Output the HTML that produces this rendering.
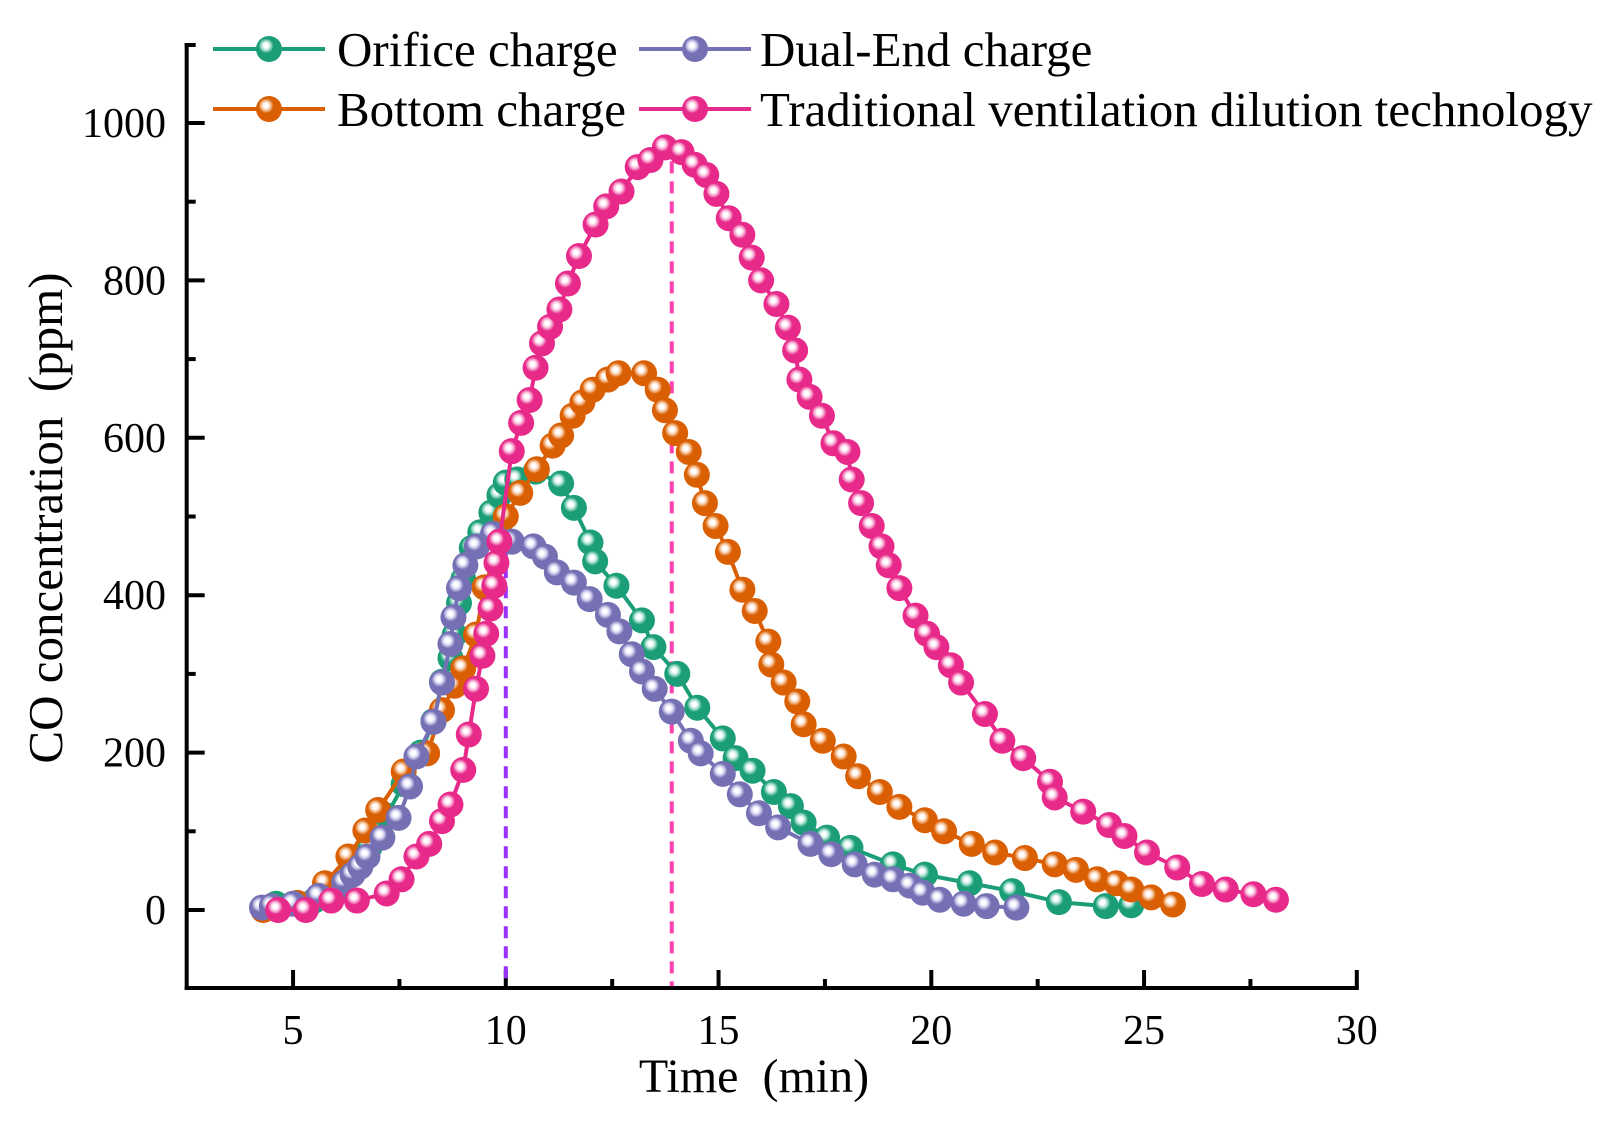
<!DOCTYPE html>
<html><head><meta charset="utf-8"><style>
html,body{margin:0;padding:0;background:#fff;}
svg{display:block;font-family:"Liberation Serif",serif;}
</style></head><body>
<svg id="chart" width="1617" height="1122" viewBox="0 0 1617 1122" xmlns="http://www.w3.org/2000/svg">
<defs id="defs"></defs>
<g id="axes"></g>
<g id="plot"></g>
<g id="legend"></g>
</svg>
<script>
const xTicks = [5, 10, 15, 20, 25, 30];
const yTicks = [0, 200, 400, 600, 800, 1000];
const peakLines = [10, 13.9];
const seriesNames = ["Orifice charge", "Bottom charge", "Dual-End charge", "Traditional ventilation dilution technology"];
const orificeT = [4.6,5.5,6.0,6.4,6.8,7.2,7.6,8.0,8.3,8.5,8.7,8.8,8.9,9.0,9.2,9.4,9.66,9.85,10.0,10.27,10.7,11.3,11.6,11.99,12.1,12.6,13.2,13.47,14.03,14.5,15.1,15.4,15.8,16.3,16.7,17.0,17.55,18.1,19.1,19.85,20.9,21.9,23.0,24.1,24.7];
const orificeV = [8,12,25,50,80,120,160,200,240,290,320,350,390,420,460,480,505,527,543,547,557,542,511,467,443,412,368,334,300,257,218,193,177,150,132,111,92,79,58,45,34,24,10,5,6];
const bottomT = [4.3,5.1,5.75,6.3,6.7,7.0,7.6,8.15,8.5,8.8,9.0,9.3,9.5,9.9,10.0,10.34,10.73,11.1,11.3,11.57,11.8,12.04,12.4,12.65,13.25,13.57,13.74,13.98,14.3,14.49,14.68,14.93,15.22,15.56,15.85,16.17,16.24,16.53,16.85,17.0,17.45,17.94,18.28,18.79,19.25,19.85,20.3,20.95,21.5,22.2,22.9,23.4,23.9,24.35,24.7,25.17,25.68];
const bottomV = [0,9,34,68,101,127,176,199,254,285,307,350,410,475,500,530,560,590,603,628,645,661,674,682,682,661,635,606,582,553,517,488,455,407,380,341,312,289,265,236,215,195,170,150,131,114,100,84,73,66,58,51,39,34,26,16,7];
const dualT = [4.27,4.5,5.0,5.6,6.2,6.4,6.58,6.75,7.1,7.48,7.75,7.9,8.3,8.5,8.7,8.77,8.9,9.05,9.32,9.7,10.14,10.65,10.92,11.2,11.6,11.97,12.4,12.67,12.96,13.2,13.5,13.9,14.35,14.58,15.1,15.5,15.95,16.4,17.16,17.65,18.2,18.67,19.1,19.5,19.8,20.2,20.76,21.3,22.0];
const dualV = [3,5,8,18,35,45,55,68,92,117,157,195,239,289,338,372,409,438,462,478,468,462,449,429,416,395,375,354,325,303,281,252,215,199,173,147,123,105,84,71,58,45,39,31,22,13,8,5,3];
const tradT = [4.65,5.3,5.9,6.5,7.2,7.55,7.9,8.2,8.5,8.7,9.0,9.13,9.3,9.45,9.54,9.64,9.73,9.78,9.85,10.14,10.36,10.56,10.7,10.85,11.04,11.26,11.46,11.72,12.11,12.36,12.72,13.1,13.4,13.74,14.13,14.44,14.71,14.95,15.24,15.56,15.78,16.0,16.36,16.63,16.8,16.9,17.14,17.43,17.7,18.03,18.13,18.35,18.6,18.83,19.0,19.25,19.63,19.9,20.12,20.46,20.7,21.26,21.67,22.16,22.79,22.9,23.57,24.18,24.54,25.07,25.78,26.36,26.92,27.57,28.1];
const tradV = [0,0,12,12,21,39,68,84,113,134,178,223,281,323,351,383,412,441,468,583,619,648,689,720,741,763,796,831,871,894,913,944,953,969,963,947,934,910,879,858,829,800,770,740,711,674,652,628,593,582,547,517,488,462,438,409,374,351,334,311,289,249,215,193,163,143,125,108,94,73,54,33,26,20,13];

const NS = "http://www.w3.org/2000/svg";
const X0 = 80.3, XS = 42.55, Y0 = 910, YS = 0.787;
function xs(t){ return X0 + t*XS; }
function ys(v){ return Y0 - v*YS; }
function mk(tag, attrs, parent){ const e=document.createElementNS(NS,tag); for(const k in attrs) e.setAttribute(k,attrs[k]); if(parent) parent.appendChild(e); return e; }

const colors = ["#1b9e77","#d95f02","#7570b3","#e7298a"];
const lights = ["#a8e0cf","#f6c49c","#cfcdee","#f8b2d6"];
const defs = document.getElementById('defs');
colors.forEach((c,i)=>{
  const g = mk('radialGradient',{id:'g'+i,cx:'0.4',cy:'0.4',r:'0.6',fx:'0.38',fy:'0.36'},defs);
  mk('stop',{offset:'0','stop-color':'#ffffff'},g);
  mk('stop',{offset:'0.14','stop-color':'#ffffff'},g);
  mk('stop',{offset:'0.3','stop-color':lights[i]},g);
  mk('stop',{offset:'0.48','stop-color':c},g);
  mk('stop',{offset:'1','stop-color':c},g);
});

const ax = document.getElementById('axes');
const yAxis = mk('line',{x1:xs(2.5),y1:43,x2:xs(2.5),y2:990,stroke:'#000','stroke-width':4},ax);


mk('line',{x1:xs(2.5)-2,y1:45,x2:xs(2.5)+9,y2:45,stroke:'#000','stroke-width':4},ax);
const xAxis = mk('line',{x1:xs(2.5)-2,y1:988,x2:xs(30)+2,y2:988,stroke:'#000','stroke-width':4},ax);


for(let t=5;t<=30.01;t+=2.5){
  const major = Math.abs(t%5)<0.01;
  mk('line',{x1:xs(t),y1:988,x2:xs(t),y2:major?970:979,stroke:'#000','stroke-width':4},ax);
}
xTicks.forEach(t=>{
  const tx = mk('text',{x:xs(t),y:1044,'font-size':42,'text-anchor':'middle'},ax);
  tx.textContent = t;
  
  
});
for(let v=-100;v<=1100;v+=100){
  const major = v%200===0;
  const y = ys(v);
  if(y<45||y>985) continue;
  mk('line',{x1:xs(2.5),y1:y,x2:xs(2.5)+(major?18:9),y2:y,stroke:'#000','stroke-width':4},ax);
}
yTicks.forEach(v=>{
  const tx = mk('text',{x:166,y:ys(v)+14,'font-size':42,'text-anchor':'end'},ax);
  tx.textContent = v;
  
  
});
const xt = mk('text',{x:754,y:1092,'font-size':48,'text-anchor':'middle'},ax);
xt.textContent = 'Time\u00a0\u00a0(min)';


const yt = mk('text',{x:0,y:0,'font-size':49,'text-anchor':'middle',transform:'translate(62,518) rotate(-90)'},ax);
yt.textContent = 'CO concentration\u00a0\u00a0(ppm)';



const plot = document.getElementById('plot');
const peakColors = ['#9b30ff','#ff40b0'];
const peakTops = [480, 969];
peakLines.forEach((t,i)=>{
  const l = mk('line',{x1:xs(t),y1:ys(peakTops[i])-6,x2:xs(t),y2:986,stroke:peakColors[i],'stroke-width':4,'stroke-dasharray':'12 8'},plot);
  
  
});
const allT=[orificeT,bottomT,dualT,tradT], allV=[orificeV,bottomV,dualV,tradV];
const sNames=['orifice-charge-series','bottom-charge-series','dual-end-charge-series','traditional-ventilation-series'];
allT.forEach((T,i)=>{
  const g = mk('g',{},plot);
  
  
  const pts = T.map((t,j)=>xs(t).toFixed(1)+','+ys(allV[i][j]).toFixed(1)).join(' ');
  const pl = mk('polyline',{points:pts,fill:'none',stroke:colors[i],'stroke-width':4,'stroke-linejoin':'round'},g);
  
  
  T.forEach((t,j)=>{
    const c = mk('circle',{cx:xs(t),cy:ys(allV[i][j]),r:13,fill:'url(#g'+i+')'},g);
    
    
  });
});

const lg = document.getElementById('legend');
const legPos = [[213,49,337],[213,109,337],[639,49,760],[639,109,760]];
seriesNames.forEach((n,i)=>{
  const [x,y,tx]=legPos[i];
  const g = mk('g',{},lg);
  
  
  mk('line',{x1:x,y1:y,x2:x+112,y2:y,stroke:colors[i],'stroke-width':4},g);
  mk('circle',{cx:x+56,cy:y,r:13,fill:'url(#g'+i+')'},g);
  const t = mk('text',{x:tx,y:y+17,'font-size':49},g);
  t.textContent = n;
});
</script>
</body></html>
